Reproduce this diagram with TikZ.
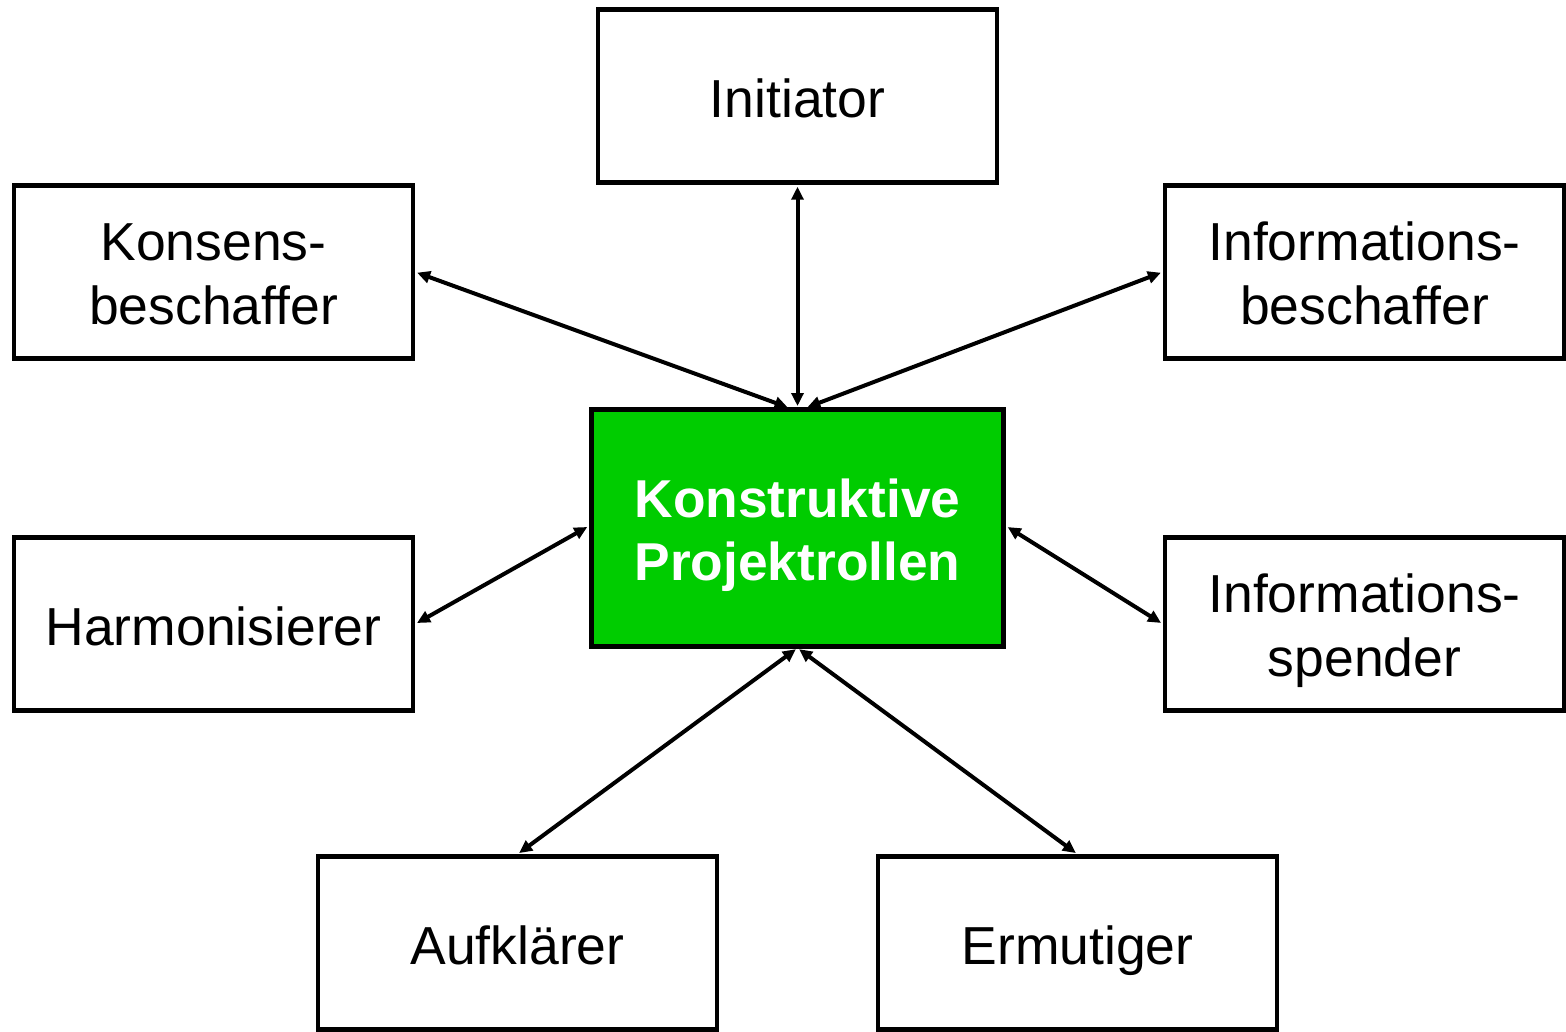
\documentclass[tikz,border=0pt]{standalone}
\usepackage{fontspec}
\setmainfont{Liberation Sans}
\usetikzlibrary{arrows.meta}
\definecolor{boxgreen}{HTML}{00CC00}
\newcommand{\lineone}[2]{\raisebox{0pt}[#1][0pt]{#2}}
\newcommand{\linetwo}[1]{\raisebox{0pt}[0pt][0pt]{#1}}
\begin{document}
\begin{tikzpicture}[x=1pt,y=-1pt,
  role/.style={draw=black,line width=4.5pt,minimum width=399pt,minimum height=173pt,
    align=center,font=\fontsize{53.5}{64}\selectfont,inner sep=0pt},
  center/.style={draw=black,fill=boxgreen,line width=5pt,minimum width=412pt,minimum height=237pt,
    align=center,text=white,font=\fontsize{53.3}{63}\selectfont\bfseries,inner sep=0pt},
  link/.style={line width=4pt,{Triangle[length=13pt,width=12pt]}-{Triangle[length=13pt,width=12pt]},shorten <=2pt,shorten >=2pt}]
\useasboundingbox (0,0) rectangle (1566,1032);
\node[role] (ini) at (797.5,96) {\lineone{43pt}{Initiator}};
\node[role] (kon) at (213.5,272) {\lineone{40pt}{Konsens-}\\\linetwo{beschaffer}};
\node[role] (ib) at (1364.5,272) {\lineone{40pt}{Informations-}\\\linetwo{beschaffer}};
\node[center] (kp) at (797.5,528) {\lineone{41pt}{Konstruktive}\\\linetwo{Projektrollen}};
\node[role] (har) at (213.5,624) {\lineone{43pt}{Harmonisierer}};
\node[role] (is) at (1364.5,624) {\lineone{40pt}{Informations-}\\\linetwo{spender}};
\node[role] (auf) at (517.5,943) {\lineone{43pt}{Aufklärer}};
\node[role] (erm) at (1077.5,943) {\lineone{43pt}{Ermutiger}};
\coordinate (kpt) at (797.5,408);
\coordinate (kpb) at (797.5,648);
\draw[link] (ini.south) -- (kpt);
\draw[link] (kon.east) -- ([xshift=-8pt]kpt);
\draw[link] (ib.west) -- ([xshift=8pt]kpt);
\draw[link] (har.east) -- ([yshift=2pt]kp.west);
\draw[link] (is.west) -- ([yshift=2pt]kp.east);
\draw[link] (auf.north) -- (kpb);
\draw[link] (erm.north) -- (kpb);
\end{tikzpicture}
\end{document}
